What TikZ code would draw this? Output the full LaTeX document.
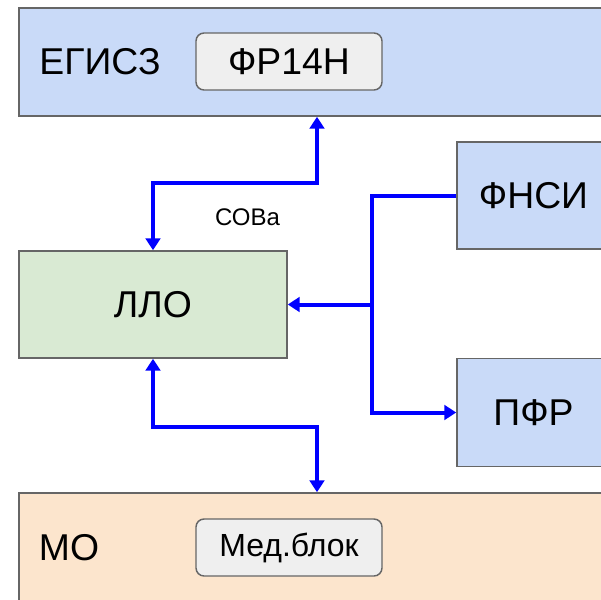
\documentclass[tikz,border=0pt]{standalone}
\usepackage{fontspec}
\setmainfont{Liberation Sans}
\usetikzlibrary{arrows.meta}
\definecolor{sysBlue}{HTML}{C9DAF8}
\definecolor{sysGreen}{HTML}{D9EAD3}
\definecolor{sysOrange}{HTML}{FCE5CD}
\definecolor{subGray}{HTML}{EFEFEF}
\definecolor{edgeGray}{HTML}{666666}
\tikzstyle{sysBox}=[draw=edgeGray, line width=1.1pt, inner sep=0pt, font=\fontsize{28}{33}\selectfont]
\tikzstyle{subBox}=[sysBox, fill=subGray, rounded corners=6pt, minimum width=139.5pt, minimum height=42.75pt]
\tikzstyle{bigLabel}=[inner sep=0pt, font=\fontsize{28}{33}\selectfont]
\tikzstyle{dataFlow}=[draw=blue, line width=3pt, ->]

\begin{document}
\begin{tikzpicture}[x=0.75pt, y=-0.75pt, >={Triangle[length=9pt,width=11pt]}]
	\useasboundingbox (0,0) rectangle (601,600);

	% systems
	\node[sysBox, fill=sysBlue, minimum width=443.25pt, minimum height=81pt] (egisz) at (314.5, 62) {};
	\node[bigLabel] (egiszName) at (100, 62) {ЕГИСЗ};
	\node[subBox] (fr) at (289, 61.5) {ФР14Н};

	\node[sysBox, fill=sysBlue, minimum width=114.75pt, minimum height=80.25pt] (fnsi) at (533.5, 195.5) {ФНСИ};
	\node[sysBox, fill=sysGreen, minimum width=201pt, minimum height=80.25pt] (llo) at (153, 304.5) {ЛЛО};
	\node[sysBox, fill=sysBlue, minimum width=114.75pt, minimum height=81pt] (pfr) at (533.5, 412.5) {ПФР};

	\node[sysBox, fill=sysOrange, minimum width=443.25pt, minimum height=87.75pt] (mo) at (314.5, 551.5) {};
	\node[bigLabel] (moName) at (69, 548) {МО};
	\node[subBox, font=\fontsize{24}{29}\selectfont] (med) at (289, 547.5) {Мед.блок};

	% links
	\coordinate (sovaBend) at (317, 183);
	\coordinate (busX) at (372, 0);
	\coordinate (moBend) at (317, 427);

	\draw[dataFlow, <->] (llo.north) |- (sovaBend) -- (sovaBend |- egisz.south);
	\node[font=\fontsize{18}{22}\selectfont] (sova) at (247.5, 217) {СОВа};

	\draw[dataFlow] (fnsi.west) -| (busX |- pfr.west) -- (pfr.west);
	\draw[dataFlow] (busX |- llo.east) -- (llo.east);

	\draw[dataFlow, <->] (llo.south) |- (moBend) -- (moBend |- mo.north);
\end{tikzpicture}
\end{document}
